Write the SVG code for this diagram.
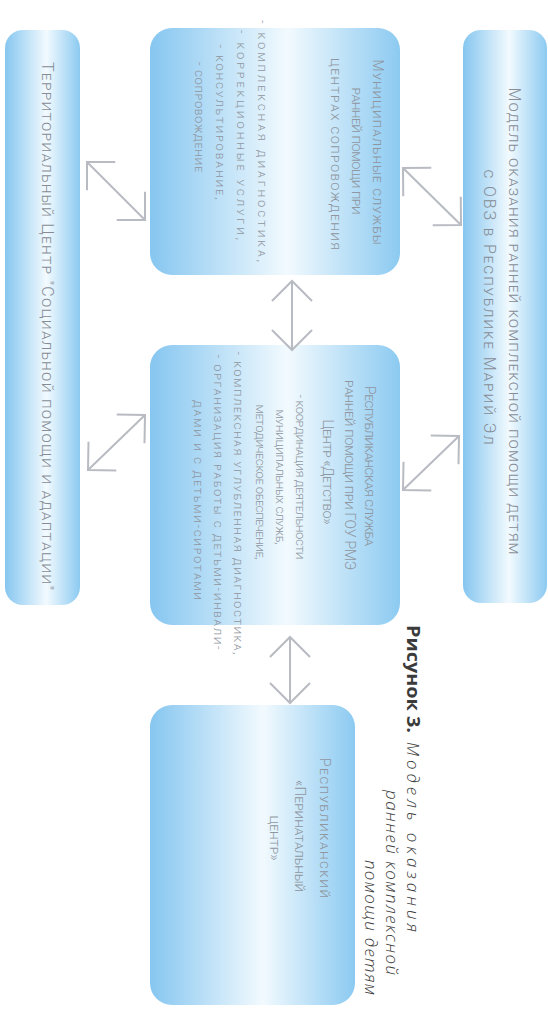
<svg xmlns="http://www.w3.org/2000/svg" width="548" height="1016" viewBox="0 0 548 1016">
<defs>
<linearGradient id="gbox" x1="0" y1="0" x2="0" y2="1">
<stop offset="0" stop-color="#8ccaf1"/>
<stop offset="0.45" stop-color="#f2fafe"/>
<stop offset="1" stop-color="#86c6f0"/>
</linearGradient>
<marker id="chev" markerUnits="userSpaceOnUse" markerWidth="50" markerHeight="50" viewBox="-25 -25 50 50" refX="0" refY="0" orient="auto-start-reverse" overflow="visible">
<path d="M -20 -20 L 0 0 L -20 20" fill="none" stroke="#b8bbc2" stroke-width="2"/>
</marker>
<style>
.box{fill:url(#gbox);}
.t{font-family:Roboto,"Liberation Sans",sans-serif;font-weight:300;font-variant:small-caps;fill:#8f96a0;text-anchor:middle;}
.h{font-size:14px;}
.b{font-size:12.5px;}
.big{font-size:16px;fill:#868c95;}
.cap{font-family:"Open Sans","Liberation Sans",sans-serif;font-size:17px;fill:#3b3b3b;}
.conn{fill:none;stroke:#b8bbc2;stroke-width:2;marker-start:url(#chev);marker-end:url(#chev);}
</style>
</defs>
<rect width="548" height="1016" fill="#ffffff"/>
<g transform="translate(548 0) rotate(90)">
<g id="model">
<rect class="box" x="30" y="1" width="573" height="84" rx="18"/>
<text class="t big" x="321" y="39" textLength="467" lengthAdjust="spacing">Модель оказания ранней комплексной помощи детям</text>
<text class="t big" x="307" y="64" textLength="275" lengthAdjust="spacing">с ОВЗ в Республике Марий Эл</text>
</g>
<g id="municipal">
<rect class="box" x="28" y="148" width="247" height="250" rx="22"/>
<text class="t h" x="152" y="175" textLength="185" lengthAdjust="spacing">Муниципальные службы</text>
<text class="t h" x="151" y="196" textLength="127" lengthAdjust="spacing">ранней помощи при</text>
<text class="t h" x="154" y="217" textLength="192" lengthAdjust="spacing">центрах сопровождения</text>
<text class="t b" x="141" y="290" textLength="242" lengthAdjust="spacing">- комплексная диагностика,</text>
<text class="t b" x="135" y="311" textLength="210" lengthAdjust="spacing">- коррекционные услуги,</text>
<text class="t b" x="122" y="332" textLength="155" lengthAdjust="spacing">- консультирование,</text>
<text class="t b" x="117" y="353" textLength="110" lengthAdjust="spacing">- сопровождение</text>
</g>
<g id="republican">
<rect class="box" x="345" y="148" width="280" height="250" rx="22"/>
<text class="t h" x="466" y="183" textLength="160" lengthAdjust="spacing">Республиканская служба</text>
<text class="t h" x="475" y="203" textLength="190" lengthAdjust="spacing">ранней помощи при ГОУ РМЭ</text>
<text class="t h" x="472" y="225" textLength="105" lengthAdjust="spacing">Центр «Детство»</text>
<text class="t b" x="477" y="252" textLength="165" lengthAdjust="spacing">- координация деятельности</text>
<text class="t b" x="477" y="272" textLength="135" lengthAdjust="spacing">муниципальных служб,</text>
<text class="t b" x="482" y="292" textLength="155" lengthAdjust="spacing">методическое обеспечение,</text>
<text class="t b" x="503" y="314" textLength="303" lengthAdjust="spacing">- комплексная углубленная диагностика,</text>
<text class="t b" x="502" y="334" textLength="295" lengthAdjust="spacing">- организация работы с детьми-инвали-</text>
<text class="t b" x="500" y="354" textLength="200" lengthAdjust="spacing">дами и с детьми-сиротами</text>
</g>
<g id="perinatal">
<rect class="box" x="705" y="193" width="300" height="205" rx="22"/>
<text class="t h" x="828" y="228" textLength="140" lengthAdjust="spacing">Республиканский</text>
<text class="t h" x="836" y="253">«Перинатальный</text>
<text class="t h" x="838" y="278">центр»</text>
</g>
<g id="territorial">
<rect class="box" x="30" y="468" width="575" height="75" rx="18"/>
<text class="t big" x="326" y="506" textLength="528" lengthAdjust="spacing">Территориальный Центр "Социальной помощи и адаптации"</text>
</g>
<g id="caption">
<text class="cap" x="625" y="141" font-weight="700" textLength="108" lengthAdjust="spacingAndGlyphs">Рисунок 3.</text>
<text class="cap" x="742" y="141" font-style="italic" font-weight="300" textLength="190" lengthAdjust="spacing">Модель оказания</text>
<text class="cap" x="790" y="162" font-style="italic" font-weight="300" textLength="185" lengthAdjust="spacing">ранней комплексной</text>
<text class="cap" x="860" y="183" font-style="italic" font-weight="300" textLength="135" lengthAdjust="spacing">помощи детям</text>
</g>
</g>
<g id="connectors">
<path class="conn" d="M 403 168 L 461 225"/>
<path class="conn" d="M 403 490 L 459 436"/>
<path class="conn" d="M 87 162 L 145 220"/>
<path class="conn" d="M 88 470 L 145 415"/>
<path class="conn" d="M 292 281 L 292 350"/>
<path class="conn" d="M 290 637 L 290 703"/>
</g>
</svg>
